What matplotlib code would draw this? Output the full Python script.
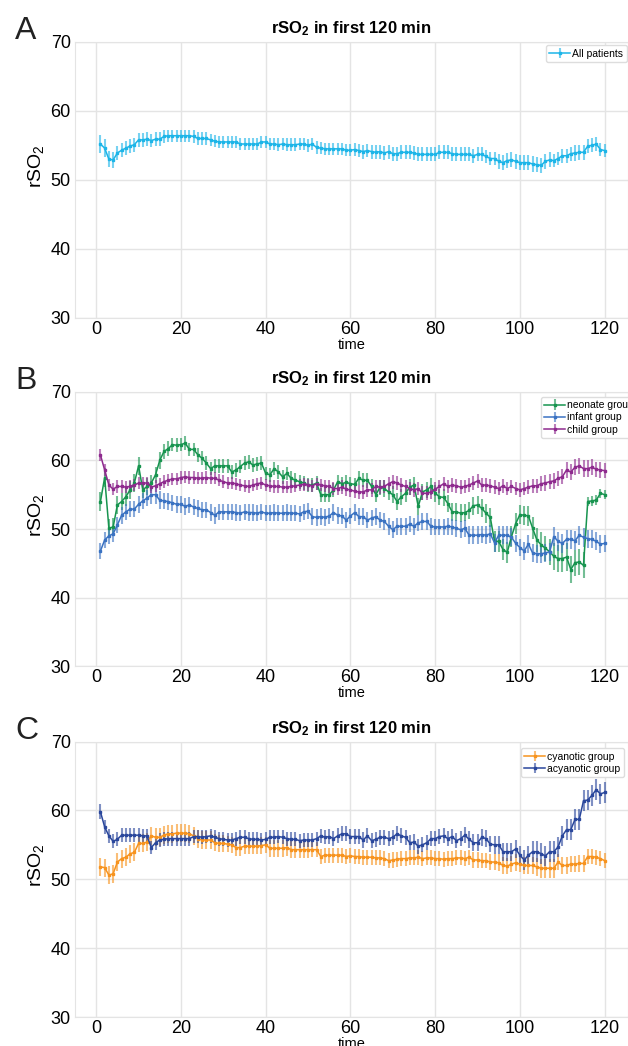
import matplotlib
matplotlib.use("Agg")
import matplotlib.pyplot as plt
from matplotlib.colors import to_rgba

plt.rcParams["font.family"] = ["Liberation Sans", "DejaVu Sans"]
plt.rcParams["mathtext.default"] = "regular"

# minutes after start
time = list(range(1, 121))

# panel A: all patients
all_mean = [
    55.2, 54.6, 53.0, 52.9, 53.9, 54.3, 54.6, 54.9, 55.1, 55.8,
    55.8, 55.9, 55.7, 55.9, 55.9, 56.3, 56.4, 56.4, 56.4, 56.4,
    56.4, 56.4, 56.3, 56.0, 56.0, 56.0, 55.8, 55.6, 55.5, 55.5,
    55.5, 55.5, 55.5, 55.2, 55.2, 55.2, 55.2, 55.2, 55.5, 55.5,
    55.2, 55.2, 55.1, 55.2, 55.1, 55.1, 55.1, 55.2, 55.2, 55.0,
    55.2, 54.7, 54.6, 54.5, 54.5, 54.5, 54.5, 54.5, 54.3, 54.3,
    54.4, 54.25, 54.1, 54.25, 54.1, 54.0, 54.1, 53.9, 54.1, 53.8,
    53.8, 54.0, 54.0, 54.0, 53.9, 53.7, 53.7, 53.7, 53.7, 53.7,
    54.0, 54.0, 54.0, 53.8, 53.7, 53.7, 53.7, 53.7, 53.5, 53.7,
    53.7, 53.4, 53.1, 53.1, 52.7, 52.5, 52.8, 52.9, 52.7, 52.5,
    52.5, 52.5, 52.3, 52.2, 52.1, 52.7, 52.9, 52.8, 53.1, 53.5,
    53.5, 53.8, 53.9, 54.0, 54.0, 54.9, 55.0, 55.2, 54.4, 54.25,
]
all_err = [
    1.3, 1.3, 1.2, 1.2, 1.0, 1.0, 1.0, 1.0, 1.0, 1.0,
    1.0, 1.0, 1.0, 1.0, 1.0, 0.9, 0.9, 0.9, 0.9, 0.9,
    0.9, 0.9, 0.9, 0.9, 0.9, 0.9, 0.9, 0.9, 0.9, 0.9,
    0.9, 0.9, 0.9, 0.9, 0.9, 0.9, 0.9, 0.9, 0.9, 0.9,
    0.9, 0.9, 0.9, 0.9, 0.9, 0.9, 0.9, 0.9, 0.9, 0.9,
    0.9, 0.9, 0.9, 0.9, 0.9, 0.9, 0.9, 0.9, 0.9, 0.9,
    1.0, 1.0, 1.0, 1.0, 1.0, 1.0, 1.0, 1.0, 1.0, 1.0,
    1.0, 1.0, 1.0, 1.0, 1.0, 1.0, 1.0, 1.0, 1.0, 1.0,
    1.0, 1.0, 1.0, 1.0, 1.0, 1.0, 1.0, 1.0, 1.0, 1.0,
    1.0, 1.0, 1.0, 1.0, 1.1, 1.1, 1.1, 1.1, 1.1, 1.1,
    1.1, 1.1, 1.1, 1.1, 1.1, 1.1, 1.1, 1.0, 1.0, 1.0,
    1.0, 1.0, 1.1, 1.1, 1.1, 1.0, 1.0, 1.0, 1.0, 1.0,
]

# panel B: age groups
neonate_mean = [
    54.0, 57.5, 50.1, 50.3, 53.5, 54.0, 54.7, 55.7, 56.7, 59.2,
    55.7, 56.2, 56.7, 57.9, 60.0, 61.3, 61.7, 62.3, 62.2, 62.3,
    62.5, 61.6, 61.6, 60.8, 60.3, 59.6, 58.8, 59.2, 59.2, 59.2,
    59.2, 58.3, 58.6, 59.1, 59.6, 59.8, 59.3, 59.5, 59.6, 58.1,
    57.9, 58.8, 58.3, 57.6, 58.1, 57.4, 57.1, 56.9, 56.7, 56.4,
    56.4, 56.7, 55.0, 55.0, 55.0, 55.7, 56.9, 56.6, 56.8, 56.6,
    56.5, 57.4, 57.1, 57.1, 56.2, 55.0, 56.1, 55.9, 55.4, 55.0,
    54.0, 54.7, 55.2, 56.1, 56.4, 53.3, 55.4, 55.7, 56.2, 55.2,
    54.7, 54.6, 53.7, 52.5, 52.5, 52.3, 52.4, 52.7, 53.4, 53.5,
    53.0, 52.3, 51.7, 48.2, 48.2, 47.0, 46.6, 48.9, 50.8, 52.1,
    52.0, 51.9, 50.1, 48.4, 47.7, 47.2, 46.7, 46.0, 45.7, 45.7,
    45.9, 44.1, 45.1, 45.2, 44.7, 54.0, 54.1, 54.2, 55.2, 55.0,
]
neonate_err = [
    1.4, 1.4, 1.3, 1.3, 1.3, 1.3, 1.3, 1.3, 1.3, 1.3,
    1.2, 1.2, 1.2, 1.2, 1.2, 1.1, 1.1, 1.0, 1.0, 1.0,
    1.0, 1.0, 1.0, 1.0, 1.0, 1.0, 1.0, 1.0, 1.0, 1.0,
    1.0, 1.0, 1.0, 1.0, 1.0, 1.0, 1.0, 1.0, 1.0, 1.0,
    1.0, 1.0, 1.0, 1.0, 1.0, 1.0, 1.0, 1.0, 1.0, 1.0,
    1.0, 1.0, 1.0, 1.0, 1.0, 1.0, 1.0, 1.0, 1.0, 1.0,
    1.0, 1.0, 1.0, 1.1, 1.1, 1.1, 1.1, 1.2, 1.2, 1.2,
    1.2, 1.2, 1.2, 1.2, 1.2, 1.2, 1.2, 1.2, 1.2, 1.2,
    1.2, 1.2, 1.2, 1.3, 1.3, 1.3, 1.3, 1.3, 1.3, 1.3,
    1.3, 1.4, 1.4, 1.5, 1.5, 1.5, 1.5, 1.5, 1.5, 1.4,
    1.4, 1.4, 1.6, 1.7, 1.8, 1.8, 1.9, 1.9, 2.0, 2.0,
    2.0, 2.0, 1.9, 1.9, 1.9, 0.7, 0.7, 0.7, 0.7, 0.7,
]
infant_mean = [
    46.8, 48.4, 49.0, 49.3, 50.6, 52.0, 52.5, 52.9, 52.9, 53.6,
    54.1, 54.5, 55.0, 55.0, 54.2, 54.1, 54.0, 53.8, 53.6, 53.6,
    53.3, 53.5, 53.2, 53.0, 52.8, 52.8, 52.4, 52.0, 52.5, 52.5,
    52.5, 52.5, 52.4, 52.3, 52.5, 52.4, 52.4, 52.3, 52.5, 52.3,
    52.3, 52.4, 52.3, 52.3, 52.4, 52.3, 52.3, 52.2, 52.5, 52.6,
    51.8, 51.7, 51.8, 51.7, 51.9, 52.4, 52.0, 51.9, 51.3, 51.9,
    52.4, 51.8, 51.8, 51.3, 51.6, 51.8, 51.3, 51.1, 50.4, 49.9,
    50.4, 50.4, 50.4, 50.7, 50.4, 50.9, 51.1, 51.1, 50.4, 50.3,
    50.3, 50.3, 50.4, 50.3, 50.1, 49.9, 50.1, 49.1, 49.1, 49.1,
    49.2, 49.1, 49.3, 48.0, 49.1, 49.1, 49.1, 48.8, 47.9, 47.3,
    46.8, 47.8, 46.5, 46.4, 46.4, 46.5, 46.7, 48.9, 48.2, 47.9,
    48.5, 48.5, 48.3, 49.1, 48.8, 48.6, 48.5, 48.2, 47.8, 47.9,
]
infant_err = [
    1.2, 1.2, 1.2, 1.2, 1.2, 1.2, 1.2, 1.2, 1.2, 1.2,
    1.2, 1.2, 1.3, 1.3, 1.3, 1.2, 1.2, 1.2, 1.2, 1.2,
    1.2, 1.2, 1.2, 1.2, 1.2, 1.2, 1.2, 1.2, 1.2, 1.2,
    1.2, 1.2, 1.2, 1.2, 1.2, 1.2, 1.2, 1.2, 1.2, 1.2,
    1.2, 1.2, 1.2, 1.2, 1.2, 1.2, 1.2, 1.2, 1.2, 1.2,
    1.2, 1.2, 1.2, 1.2, 1.2, 1.2, 1.2, 1.2, 1.2, 1.2,
    1.2, 1.2, 1.2, 1.2, 1.2, 1.2, 1.2, 1.2, 1.2, 1.2,
    1.2, 1.2, 1.2, 1.2, 1.2, 1.2, 1.2, 1.2, 1.2, 1.2,
    1.2, 1.2, 1.2, 1.2, 1.2, 1.2, 1.2, 1.3, 1.3, 1.3,
    1.3, 1.3, 1.3, 1.3, 1.3, 1.3, 1.3, 1.3, 1.3, 1.3,
    1.3, 1.3, 1.3, 1.3, 1.3, 1.3, 1.3, 1.4, 1.4, 1.4,
    1.4, 1.4, 1.4, 1.4, 1.4, 1.3, 1.3, 1.3, 1.3, 1.3,
]
child_mean = [
    60.8, 58.6, 56.4, 55.8, 56.2, 56.2, 56.1, 56.2, 56.4, 56.7,
    56.7, 56.7, 56.1, 56.3, 56.6, 56.9, 57.1, 57.3, 57.3, 57.5,
    57.6, 57.5, 57.5, 57.4, 57.4, 57.5, 57.4, 57.4, 57.1, 56.9,
    56.7, 56.7, 56.6, 56.4, 56.3, 56.2, 56.4, 56.6, 56.7, 56.4,
    56.3, 56.2, 56.2, 56.1, 56.1, 56.2, 56.3, 56.4, 56.5, 56.4,
    56.3, 56.6, 56.4, 56.3, 56.2, 55.9, 55.9, 56.1, 55.8, 55.7,
    55.5, 55.4, 55.4, 55.7, 55.7, 56.2, 56.1, 56.2, 56.6, 56.9,
    56.7, 56.4, 56.2, 55.9, 55.7, 55.9, 55.2, 55.2, 55.4, 55.8,
    56.2, 56.6, 56.2, 56.4, 56.3, 56.1, 56.2, 56.4, 56.7, 57.0,
    56.4, 56.4, 56.3, 56.1, 55.9, 56.3, 55.9, 56.2, 55.9, 55.7,
    55.9, 56.1, 56.3, 56.3, 56.6, 56.7, 56.9, 57.0, 57.4, 57.6,
    58.6, 58.3, 59.0, 59.2, 58.8, 58.8, 59.0, 58.7, 58.6, 58.5,
]
child_err = [
    0.9, 0.9, 0.9, 0.9, 0.9, 0.9, 0.9, 0.9, 0.9, 0.9,
    0.9, 0.9, 0.9, 0.9, 0.9, 0.9, 0.9, 0.9, 0.9, 0.9,
    0.9, 0.9, 0.9, 0.9, 0.9, 0.9, 0.9, 0.9, 0.9, 0.9,
    0.9, 0.9, 0.9, 0.9, 0.9, 0.9, 0.9, 0.9, 0.9, 0.9,
    0.9, 0.9, 0.9, 0.9, 0.9, 0.9, 0.9, 0.9, 0.9, 0.9,
    0.9, 0.9, 0.9, 0.9, 0.9, 1.0, 1.0, 1.0, 1.0, 1.0,
    1.0, 1.0, 1.0, 1.0, 1.0, 1.0, 1.0, 1.0, 1.0, 1.0,
    1.0, 1.0, 1.0, 1.0, 1.0, 1.0, 1.0, 1.0, 1.0, 1.0,
    1.0, 1.0, 1.0, 1.0, 1.0, 1.0, 1.0, 1.0, 1.0, 1.0,
    1.0, 1.0, 1.0, 1.0, 1.0, 1.0, 1.0, 1.0, 1.0, 1.0,
    1.0, 1.0, 1.0, 1.0, 1.1, 1.1, 1.1, 1.1, 1.1, 1.1,
    1.1, 1.1, 1.2, 1.2, 1.2, 1.2, 1.2, 1.1, 1.1, 1.1,
]

# panel C: cyanotic vs acyanotic
cyan_mean = [
    51.8, 51.7, 50.6, 50.8, 52.5, 53.0, 53.2, 53.7, 53.9, 55.2,
    55.2, 55.4, 56.3, 56.1, 56.1, 56.4, 56.6, 56.6, 56.7, 56.7,
    56.7, 56.6, 56.3, 55.9, 55.7, 55.7, 55.7, 55.3, 55.2, 55.2,
    55.1, 55.0, 54.6, 54.6, 54.8, 54.8, 54.8, 54.8, 54.9, 55.0,
    54.5, 54.5, 54.5, 54.5, 54.6, 54.3, 54.3, 54.3, 54.3, 54.3,
    54.3, 54.3, 53.3, 53.5, 53.5, 53.5, 53.5, 53.5, 53.3, 53.4,
    53.3, 53.3, 53.2, 53.2, 53.2, 53.1, 53.1, 53.0, 52.7, 52.8,
    52.9, 53.0, 53.0, 53.1, 53.1, 53.2, 53.0, 53.1, 53.1, 53.0,
    53.0, 52.9, 53.0, 53.0, 53.1, 53.1, 53.0, 53.2, 52.8, 52.8,
    52.7, 52.7, 52.5, 52.5, 52.4, 52.0, 51.9, 52.2, 52.4, 52.2,
    52.0, 52.0, 52.0, 51.8, 51.6, 51.6, 51.6, 51.6, 52.5, 52.0,
    52.0, 52.2, 52.2, 52.3, 52.3, 53.3, 53.3, 53.2, 53.0, 52.7,
]
cyan_err = [
    1.3, 1.3, 1.3, 1.3, 1.3, 1.3, 1.3, 1.3, 1.3, 1.3,
    1.3, 1.3, 1.3, 1.3, 1.3, 1.3, 1.3, 1.3, 1.3, 1.3,
    1.3, 1.3, 1.3, 1.3, 1.3, 1.3, 1.3, 1.2, 1.2, 1.2,
    1.2, 1.2, 1.2, 1.2, 1.2, 1.2, 1.2, 1.2, 1.2, 1.2,
    1.2, 1.2, 1.2, 1.2, 1.2, 1.2, 1.2, 1.2, 1.2, 1.2,
    1.1, 1.1, 1.1, 1.1, 1.1, 1.1, 1.1, 1.1, 1.1, 1.1,
    1.1, 1.1, 1.1, 1.1, 1.1, 1.1, 1.1, 1.1, 1.1, 1.1,
    1.1, 1.1, 1.1, 1.1, 1.1, 1.1, 1.1, 1.1, 1.1, 1.1,
    1.1, 1.1, 1.1, 1.1, 1.1, 1.1, 1.1, 1.1, 1.1, 1.1,
    1.1, 1.1, 1.2, 1.2, 1.2, 1.2, 1.2, 1.2, 1.2, 1.2,
    1.2, 1.2, 1.3, 1.3, 1.4, 1.4, 1.4, 1.4, 1.2, 1.2,
    1.2, 1.2, 1.2, 1.2, 1.2, 1.1, 1.1, 1.1, 1.1, 1.1,
]
acyan_mean = [
    59.8, 57.6, 56.3, 55.5, 55.8, 56.4, 56.4, 56.4, 56.4, 56.4,
    56.3, 56.3, 54.6, 55.3, 55.7, 55.8, 55.9, 55.9, 55.9, 55.9,
    55.9, 55.9, 56.2, 56.2, 56.1, 56.2, 56.3, 56.1, 55.9, 55.8,
    55.7, 55.7, 55.9, 56.1, 56.1, 55.9, 55.8, 55.8, 55.7, 55.8,
    56.1, 56.1, 56.2, 56.1, 55.9, 55.8, 55.8, 55.6, 55.7, 55.7,
    55.7, 55.9, 56.3, 56.1, 56.2, 55.9, 56.3, 56.6, 56.6, 56.2,
    56.2, 56.2, 55.7, 56.3, 55.6, 55.8, 56.1, 56.1, 55.9, 56.1,
    56.6, 56.3, 56.1, 55.3, 55.4, 54.8, 55.0, 55.3, 55.9, 55.9,
    56.2, 56.3, 55.9, 56.2, 55.6, 55.9, 56.4, 55.8, 55.3, 55.3,
    56.1, 55.9, 55.1, 55.0, 55.0, 54.0, 54.0, 54.0, 54.4, 53.5,
    52.8, 53.5, 54.0, 54.0, 53.7, 53.4, 54.0, 54.0, 54.7, 56.3,
    57.2, 57.2, 58.7, 58.7, 61.4, 61.5, 62.2, 63.0, 62.4, 62.6,
]
acyan_err = [
    1.1, 1.0, 1.0, 1.0, 1.0, 1.0, 1.0, 1.0, 1.0, 1.0,
    1.0, 1.0, 1.0, 1.0, 1.0, 1.0, 1.0, 1.0, 1.0, 1.0,
    1.0, 1.0, 1.0, 1.0, 1.0, 1.0, 1.0, 1.0, 1.0, 1.0,
    1.0, 1.0, 1.0, 1.0, 1.0, 1.0, 1.0, 1.0, 1.0, 1.0,
    1.0, 1.0, 1.0, 1.0, 1.0, 1.0, 1.0, 1.0, 1.0, 1.0,
    1.0, 1.0, 1.0, 1.0, 1.1, 1.1, 1.1, 1.1, 1.1, 1.1,
    1.1, 1.1, 1.1, 1.1, 1.1, 1.1, 1.1, 1.1, 1.1, 1.1,
    1.1, 1.1, 1.1, 1.1, 1.1, 1.1, 1.1, 1.1, 1.1, 1.1,
    1.1, 1.1, 1.1, 1.1, 1.1, 1.1, 1.2, 1.2, 1.2, 1.2,
    1.2, 1.2, 1.2, 1.3, 1.3, 1.3, 1.3, 1.3, 1.3, 1.4,
    1.4, 1.4, 1.5, 1.5, 1.5, 1.5, 1.5, 1.5, 1.5, 1.5,
    1.5, 1.5, 1.5, 1.5, 1.5, 1.5, 1.5, 1.5, 1.5, 1.5,
]

panels = [
    ("A", [("All patients", all_mean, all_err, "#1cb5e8")], 0.6960, 0.2640, (545.7, 45)),
    ("B", [("neonate group", neonate_mean, neonate_err, "#17944f"),
           ("infant group", infant_mean, infant_err, "#3a72c2"),
           ("child group", child_mean, child_err, "#8e2a8e")], 0.3630, 0.2625, (540.7, 396.7)),
    ("C", [("cyanotic group", cyan_mean, cyan_err, "#f7931e"),
           ("acyanotic group", acyan_mean, acyan_err, "#2a479c")], 0.0277, 0.2634, (520.7, 748)),
]

W, H = 628, 1046
fig = plt.figure(figsize=(W / 100, H / 100), dpi=100)
grid_col = "#e4e4e4"

for letter, series, bottom, height, leg_xy in panels:
    ax = fig.add_axes([75 / W, bottom, 1 - 75 / W, height])
    for label, mean, err, col in series:
        ax.errorbar(time, mean, yerr=err, color=col, lw=1.1, marker="s", ms=1.6,
                    ecolor=to_rgba(col, 0.6), elinewidth=1.5, capsize=0, label=label)
    ax.set_xlim(-5, 125.5)
    ax.set_ylim(30, 70)
    ax.set_xticks(range(0, 121, 20))
    ax.set_yticks(range(30, 71, 10))
    ax.grid(True, color=grid_col, lw=1)
    ax.set_axisbelow(True)
    for side in ax.spines.values():
        side.set_color(grid_col)
    ax.tick_params(axis="both", length=0, labelsize=13)
    ax.tick_params(axis="y", pad=3)
    ax.tick_params(axis="x", pad=2)
    ax.set_title("rSO$_2$ in first 120 min", fontsize=12, fontweight="bold", pad=6)
    ax.set_xlabel("time", fontsize=10.5, labelpad=0)
    ax.set_ylabel("rSO$_2$", fontsize=14)
    ax.yaxis.set_label_coords(-0.052, 0.55)
    ax.legend(loc="upper left", bbox_to_anchor=(leg_xy[0] / W, 1 - leg_xy[1] / H),
              bbox_transform=fig.transFigure, borderaxespad=0, fontsize=7.5,
              handlelength=2.0, handletextpad=0.2, labelspacing=0.2, borderpad=0.35,
              edgecolor="#dddddd", framealpha=1)
    top_px = (1 - bottom - height) * H
    fig.text(15 / W, 1 - (top_px - 3) / H, letter, fontsize=23, ha="left", va="baseline",
             color="#222222")

fig.savefig("out.png", dpi=100)
